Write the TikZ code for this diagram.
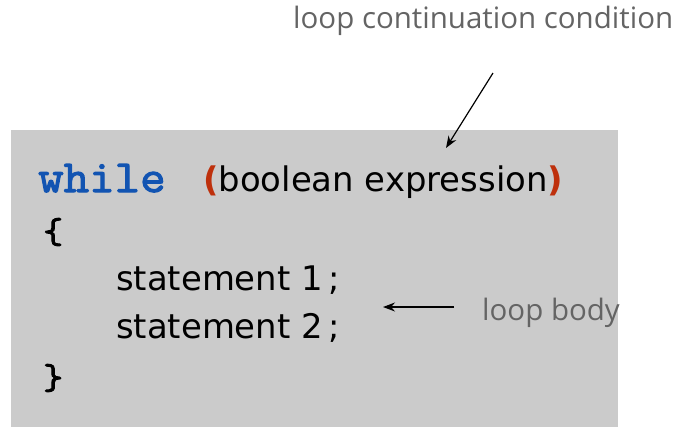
\documentclass[tikz,border=0pt]{standalone}
\usepackage{fontspec}
\setmainfont{DejaVu Sans}
\newfontfamily\codemono[FakeBold=2.5,FakeStretch=1.08]{Latin Modern Mono}
\newfontfamily\notefont{Open Sans}
\usetikzlibrary{arrows.meta}
\definecolor{boxgray}{RGB}{203,203,203}
\definecolor{keyblue}{RGB}{18,84,178}
\definecolor{parenred}{RGB}{190,48,12}
\definecolor{notegray}{RGB}{100,100,100}
\begin{document}
\begin{tikzpicture}
  [x=1bp,y=-1bp,every node/.style={inner sep=0pt,anchor=base west}]
  \tikzstyle{keyword} = [font=\codemono\fontsize{46}{52}\selectfont,text=keyblue]
  \tikzstyle{brace} = [font=\codemono\fontsize{36}{44}\selectfont]
  \tikzstyle{code} = [font=\fontsize{34}{40}\selectfont]
  \tikzstyle{note} = [font=\notefont\fontsize{29.6}{34}\selectfont,text=notegray]
  \tikzstyle{pointer} = [line width=1.2bp,-{Stealth[length=12bp,width=9bp]}]
  \useasboundingbox (0,0) rectangle (679,427);
  \fill[boxgray] (11,130) rectangle (618,427);

  \node[keyword] (kw) at (38,192) {while};
  \node[code] (cond) at (203,191)
    {\textcolor{parenred}{\bfseries(}boolean expression\textcolor{parenred}{\bfseries)}};
  \node[brace] (open) at (43,243) {\{};
  \node[code] (s1) at (116,290) {statement 1\,;};
  \node[code] (s2) at (116,338) {statement 2\,;};
  \node[brace] (close) at (43,389) {\}};

  \node[note] (condnote) at (293,28) {loop continuation condition};
  \node[note] (bodynote) at (482,320) {loop body};

  \coordinate (condfrom) at (493,73);
  \coordinate (condto) at (446,148);
  \coordinate (bodyto) at (383,307);
  \draw[pointer] (condfrom) -- (condto);
  \draw[pointer,shorten <=28bp] (bodynote.west |- bodyto) -- (bodyto);

\end{tikzpicture}
\end{document}
